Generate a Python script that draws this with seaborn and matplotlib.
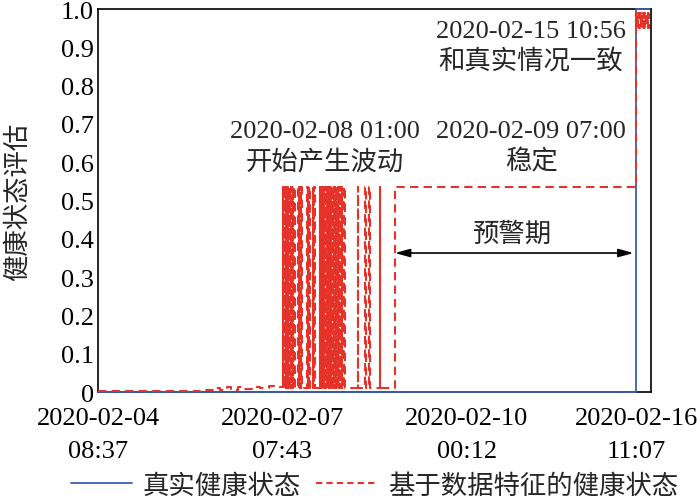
import matplotlib
matplotlib.use("Agg")
import matplotlib.pyplot as plt
import seaborn as sns
import numpy as np
import pandas as pd

# sample index axis, labels are the timestamps at those samples
tick_pos = [0, 1000, 2000, 2920]
tick_labels = ["2020-02-04\n08:37", "2020-02-07\n07:43", "2020-02-10\n00:12", "2020-02-16\n11:07"]

# true health state: 0 until the fault, then 1
true_x = [0, 2919, 2995]
true_y = [0.0, 1.0, 1.0]

# data based state before fluctuation (step points)
pre_x = [0, 560, 640, 660, 700, 720, 760, 790, 850, 880, 930, 960]
pre_y = [0.003, 0.006, 0.010, 0.005, 0.012, 0.006, 0.013, 0.008, 0.014, 0.010, 0.015, 0.012]

# pulses to the 0.535 level during the fluctuation period
pulse_on = [1003, 1009, 1015, 1021, 1027, 1033, 1039, 1045, 1051, 1057, 1063,
            1085, 1091, 1097, 1103, 1134, 1140, 1146, 1166, 1172,
            1204, 1209, 1214, 1219, 1224, 1229, 1234, 1239, 1244, 1249, 1254,
            1259, 1264, 1269, 1274, 1279, 1284, 1289, 1294,
            1304, 1311, 1318, 1326, 1334,
            1408, 1449, 1470, 1528]
pulse_off = [1006, 1012, 1018, 1024, 1030, 1036, 1042, 1048, 1054, 1060, 1068,
             1088, 1094, 1100, 1107, 1137, 1143, 1150, 1169, 1178,
             1207, 1212, 1217, 1222, 1227, 1232, 1237, 1242, 1247, 1252, 1257,
             1262, 1267, 1272, 1277, 1282, 1287, 1292, 1298,
             1307, 1314, 1321, 1330, 1339,
             1412, 1453, 1475, 1532]
high_level = 0.535
low_level = 0.01
stable_start = 1611

# after the fault it flickers near 1
end_x = [2919, 2921, 2923, 2925, 2927, 2929, 2931, 2933, 2935, 2937, 2939, 2941,
         2943, 2945, 2947, 2949, 2951, 2953, 2955, 2957, 2959, 2961, 2963, 2965,
         2967, 2969, 2971, 2973, 2975, 2977, 2979, 2981, 2983, 2985, 2987, 2989, 2991]
end_y = [0.99, 0.95, 0.99, 0.95, 0.99, 0.95, 0.99, 0.95, 0.99, 0.95, 0.99, 0.95,
         0.99, 0.95, 0.99, 0.95, 0.99, 0.95, 0.99, 0.95, 0.99, 0.95, 0.99, 0.95,
         0.99, 0.95, 0.99, 0.95, 0.99, 0.95, 0.99, 0.95, 0.99, 0.95, 0.99, 0.95, 0.99]

rx = list(pre_x)
ry = list(pre_y)
for a, b in zip(pulse_on, pulse_off):
    rx += [a, b]
    ry += [high_level, low_level]
rx += [stable_start] + end_x
ry += [high_level] + end_y
red = pd.DataFrame({"x": rx, "y": ry})
blue = pd.DataFrame({"x": true_x, "y": true_y})

sns.set_style("white")
fam = ["Liberation Serif", "Noto Sans CJK SC"]
plt.rcParams["font.family"] = fam
plt.rcParams["xtick.direction"] = "in"
plt.rcParams["ytick.direction"] = "in"

fs = 19
fig = plt.figure(figsize=(7, 5.02), dpi=100)
ax = fig.add_axes([0.14, 0.217, 0.79, 0.763])

sns.lineplot(data=blue, x="x", y="y", ax=ax, color="#3b5fae", lw=1.3,
             drawstyle="steps-post", estimator=None, sort=False,
             label="真实健康状态", clip_on=False, zorder=3)
sns.lineplot(data=red, x="x", y="y", ax=ax, color="#e5332a", lw=1.5,
             drawstyle="steps-post", estimator=None, sort=False,
             dashes=False, label="基于数据特征的健康状态", zorder=4)
ax.lines[1].set_dashes((4, 2.5))

ax.set_xlim(0, 3000)
ax.set_ylim(0, 1.0)
ax.set_xticks(tick_pos)
ax.set_xticklabels(tick_labels, linespacing=1.6)
ax.set_yticks(np.arange(0, 1.01, 0.1))
ax.set_yticklabels(["0"] + ["%.1f" % v for v in np.arange(0.1, 1.01, 0.1)])
ax.tick_params(labelsize=fs, length=5, width=1, colors="black", pad=3)
ax.tick_params(axis="x", pad=11)
ax.set_xlabel("")
ax.set_ylabel("健康状态评估", fontsize=fs, labelpad=22)
for s in ax.spines.values():
    s.set_color("black")
    s.set_linewidth(1.2)

ax.text(1232, 0.64, "2020-02-08 01:00\n开始产生波动", ha="center", va="center",
        fontsize=fs, linespacing=1.3)
ax.text(2349, 0.64, "2020-02-09 07:00\n稳定", ha="center", va="center",
        fontsize=fs, linespacing=1.3)
ax.text(2349, 0.902, "2020-02-15 10:56\n和真实情况一致", ha="center", va="center",
        fontsize=fs, linespacing=1.3)
ax.text(2250, 0.413, "预警期", ha="center", va="center", fontsize=fs)
ax.annotate("", xy=(1611, 0.363), xytext=(2905, 0.363),
            arrowprops=dict(arrowstyle="<|-|>,head_length=0.9,head_width=0.25",
                            color="black", lw=1.2, shrinkA=0, shrinkB=0))

leg = ax.legend(loc="lower center", bbox_to_anchor=(0.535, -0.035), ncol=2,
                frameon=False, fontsize=fs, handlelength=2.3, columnspacing=0.6,
                handletextpad=0.4, borderpad=0.3, bbox_transform=fig.transFigure)
leg.get_lines()[1].set_dashes((3, 2))

fig.savefig("out.png", dpi=100)
